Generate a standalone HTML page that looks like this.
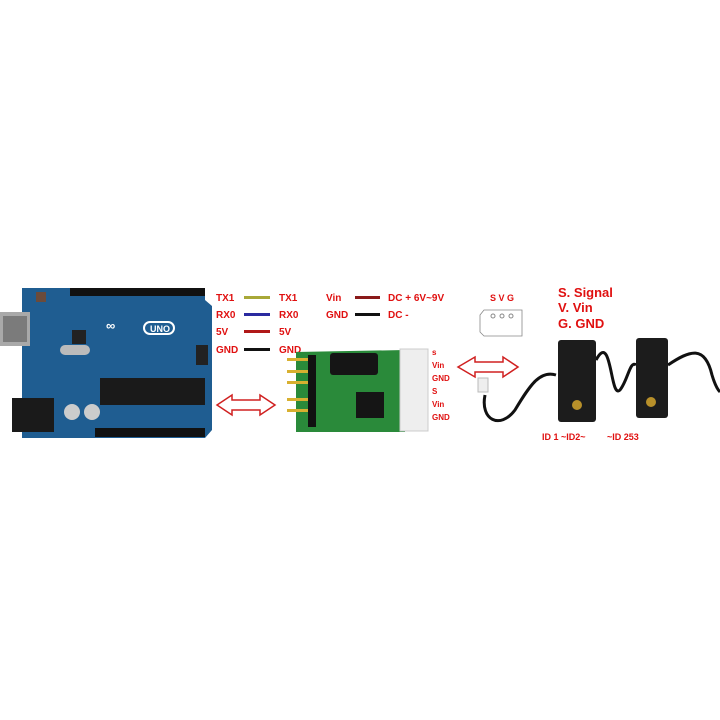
<!DOCTYPE html>
<html><head><meta charset="utf-8"><style>
html,body{margin:0;padding:0;background:#fff;width:720px;height:720px;overflow:hidden}
svg{display:block}
text{font-family:"Liberation Sans",sans-serif;font-weight:bold;fill:#e01010}
</style></head><body>
<svg width="720" height="720" viewBox="0 0 720 720">
<rect width="720" height="720" fill="#fff"/>
<!-- Arduino -->
<path d="M22 288 L205 288 L205 300 L212 306 L212 430 L205 438 L22 438 Z" fill="#1f5d91"/>
<rect x="70" y="288" width="135" height="8" fill="#111"/>
<rect x="95" y="428" width="110" height="9" fill="#111"/>
<rect x="0" y="312" width="30" height="34" fill="#a9a9a9"/>
<rect x="3" y="316" width="24" height="26" fill="#7b7b7b"/>
<rect x="12" y="398" width="42" height="34" fill="#1a1a1a"/>
<rect x="100" y="378" width="105" height="27" fill="#1a1a1a"/>
<circle cx="72" cy="412" r="8" fill="#ccc"/><circle cx="92" cy="412" r="8" fill="#ccc"/>
<rect x="60" y="345" width="30" height="10" rx="5" fill="#bbb"/>
<rect x="72" y="330" width="14" height="14" fill="#222"/>
<rect x="36" y="292" width="10" height="10" fill="#6b4b3b"/>
<text x="106" y="330" font-size="13" style="fill:#fff">∞</text>
<rect x="144" y="322" width="30" height="12" rx="6" fill="none" stroke="#fff" stroke-width="2"/>
<text x="150" y="332" font-size="9" style="fill:#fff">UNO</text>
<rect x="196" y="345" width="12" height="20" fill="#222"/>
<!-- wire labels -->
<g font-size="10">
<text x="216" y="301">TX1</text><text x="279" y="301">TX1</text>
<text x="216" y="318">RX0</text><text x="279" y="318">RX0</text>
<text x="216" y="335">5V</text><text x="279" y="335">5V</text>
<text x="216" y="353">GND</text><text x="279" y="353">GND</text>
<text x="326" y="301">Vin</text><text x="388" y="301">DC + 6V~9V</text>
<text x="326" y="318">GND</text><text x="388" y="318">DC -</text>
</g>
<rect x="244" y="296" width="26" height="3" fill="#a8a838"/>
<rect x="244" y="313" width="26" height="3" fill="#2a2aa0"/>
<rect x="244" y="330" width="26" height="3" fill="#b01818"/>
<rect x="244" y="348" width="26" height="3" fill="#111"/>
<rect x="355" y="296" width="25" height="3" fill="#8a1a1a"/>
<rect x="355" y="313" width="25" height="3" fill="#111"/>
<!-- arrow 1 -->
<path d="M217 405 L232 395 L232 400 L260 400 L260 395 L275 405 L260 415 L260 410 L232 410 L232 415 Z" fill="#fff" stroke="#d02020" stroke-width="1.5"/>
<!-- green board -->
<path d="M296 352 L405 350 L405 432 L296 432 Z" fill="#2a8a3a"/>
<rect x="287" y="358" width="28" height="3" fill="#d8b030"/>
<rect x="287" y="370" width="28" height="3" fill="#d8b030"/>
<rect x="287" y="381" width="28" height="3" fill="#d8b030"/>
<rect x="287" y="398" width="28" height="3" fill="#d8b030"/>
<rect x="287" y="409" width="28" height="3" fill="#d8b030"/>
<rect x="308" y="355" width="8" height="72" fill="#111"/>
<rect x="330" y="353" width="48" height="22" rx="3" fill="#151515"/>
<rect x="356" y="392" width="28" height="26" fill="#151515"/>
<rect x="400" y="349" width="28" height="82" fill="#eee" stroke="#ccc"/>
<g font-size="8">
<text x="432" y="355">s</text><text x="432" y="368">Vin</text><text x="432" y="381">GND</text>
<text x="432" y="394">S</text><text x="432" y="407">Vin</text><text x="432" y="420">GND</text>
</g>
<!-- arrow 2 -->
<path d="M458 367 L475 357 L475 362 L503 362 L503 357 L518 367 L503 377 L503 372 L475 372 L475 377 Z" fill="#fff" stroke="#d02020" stroke-width="1.5"/>
<!-- SVG connector drawing -->
<text x="490" y="301" font-size="9">S V G</text>
<path d="M480 315 L484 310 L522 310 L522 336 L484 336 L480 332 Z" fill="none" stroke="#888" stroke-width="0.8"/>
<circle cx="493" cy="316" r="2" fill="none" stroke="#888"/><circle cx="502" cy="316" r="2" fill="none" stroke="#888"/><circle cx="511" cy="316" r="2" fill="none" stroke="#888"/>
<!-- servo labels -->
<g font-size="13">
<text x="558" y="297">S. Signal</text><text x="558" y="312">V. Vin</text><text x="558" y="328">G. GND</text>
</g>
<text x="542" y="440" font-size="9">ID 1 ~ID2~</text><text x="607" y="440" font-size="9">~ID 253</text>
<!-- cables -->
<path d="M485 395 C480 420 500 430 515 410 C530 385 540 370 556 375" fill="none" stroke="#111" stroke-width="3"/>
<path d="M596 360 C612 330 610 400 620 390 C628 380 630 360 636 365" fill="none" stroke="#111" stroke-width="3"/>
<path d="M668 365 C690 350 705 345 712 375 C715 385 718 390 720 392" fill="none" stroke="#111" stroke-width="3"/>
<rect x="478" y="378" width="10" height="14" fill="#eee" stroke="#bbb"/>
<!-- servos -->
<rect x="558" y="340" width="38" height="82" rx="3" fill="#1c1c1c"/>
<circle cx="577" cy="405" r="5" fill="#b8902a"/>
<rect x="636" y="338" width="32" height="80" rx="3" fill="#1c1c1c"/>
<circle cx="651" cy="402" r="5" fill="#b8902a"/>
</svg>
</body></html>
